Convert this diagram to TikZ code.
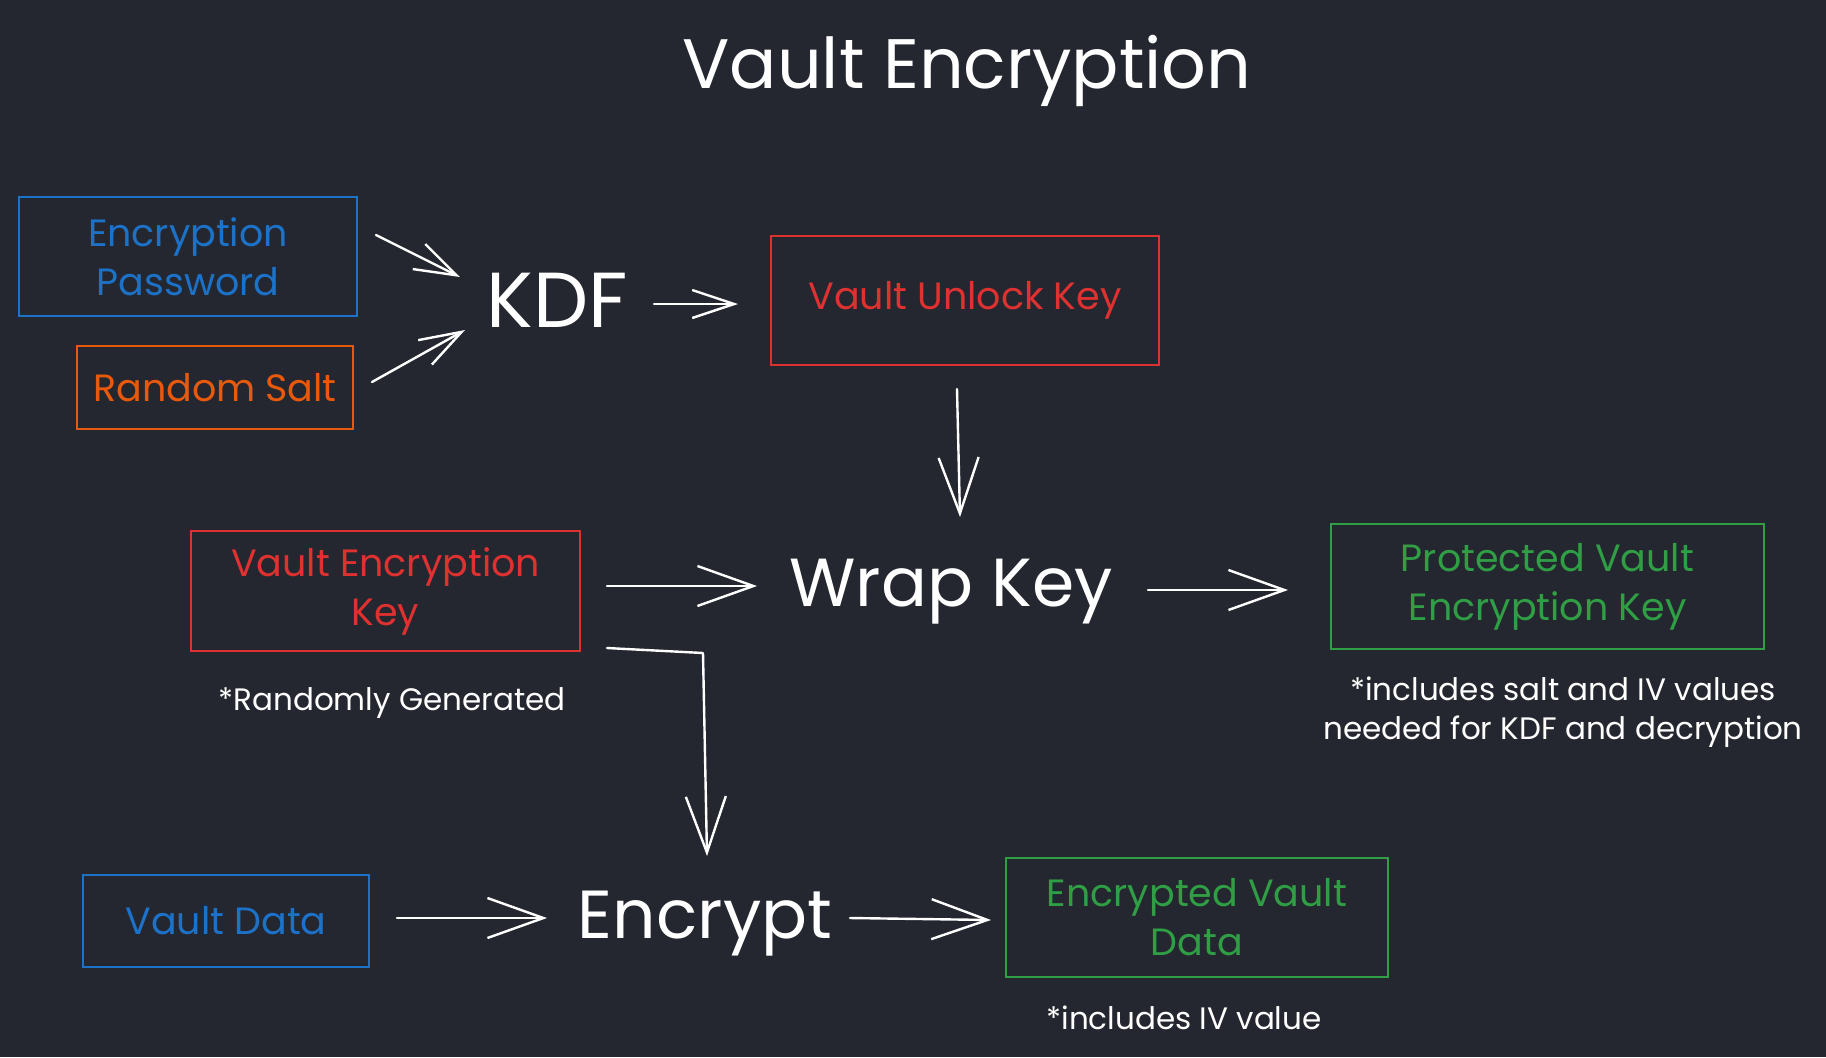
\documentclass[tikz,border=0pt]{standalone}
\usepackage{fontspec}
\setmainfont{Poppins}
\usetikzlibrary{arrows.meta,calc}
\definecolor{bg}{RGB}{36,39,47}
\definecolor{cblue}{RGB}{28,114,200}
\definecolor{corange}{RGB}{232,89,12}
\definecolor{cred}{RGB}{224,49,49}
\definecolor{cgreen}{RGB}{47,158,68}
\tikzset{
  boxnode/.style={draw, line width=1pt, inner sep=0pt, align=center, font=\fontsize{19}{24.5}\selectfont},
  bigword/.style={text=white, inner sep=0pt, text height=24pt, text depth=0pt, font=\fontsize{34}{40}\selectfont},
  notenode/.style={text=white, inner sep=0pt, align=center, font=\fontsize{15.5}{19.5}\selectfont},
  arr/.style={draw=white, line width=1.2pt, line cap=round, line join=round, -{Straight Barb[length=28pt,width=20pt,line width=1.2pt]}},
  arrsmall/.style={draw=white, line width=1.2pt, line cap=round, -{Straight Barb[length=21pt,width=14pt,line width=1.2pt]}}
}
\begin{document}
\begin{tikzpicture}[x=0.5pt,y=-0.5pt]
\fill[bg] (0,0) rectangle (1826,1057);
\useasboundingbox (0,0) rectangle (1826,1057);

\node[text=white, inner sep=0pt, text height=24.5pt, text depth=0pt, font=\fontsize{35}{40}\selectfont] (title) at (967,64) {Vault Encryption};

\node[boxnode, draw=cblue, text=cblue, minimum width=169pt, minimum height=59.5pt] (ep) at (188,256.5) {Encryption\\Password};
\node[boxnode, draw=corange, text=corange, minimum width=138pt, minimum height=41.5pt] (rs) at (215,387.5) {Random Salt};
\node[bigword, text height=27pt, font=\fontsize{39}{44}\selectfont] (kdf) at (557,300) {KDF};
\node[boxnode, draw=cred, text=cred, minimum width=194pt, minimum height=64.5pt] (vuk) at (965,300.5) {Vault Unlock Key};
\node[bigword] (wrap) at (951,582) {Wrap Key};
\node[boxnode, draw=cred, text=cred, minimum width=194.5pt, minimum height=60pt] (vek) at (385.5,591) {Vault Encryption\\Key};
\node[notenode] (rg) at (392,703) {*Randomly Generated};
\node[boxnode, draw=cgreen, text=cgreen, minimum width=216.5pt, minimum height=62.5pt] (pvek) at (1547.5,586.5) {Protected Vault\\Encryption Key};
\node[notenode] (n2) at (1563,712) {*includes salt and IV values\\needed for KDF and decryption};
\node[bigword] (enc) at (705,914) {Encrypt};
\node[boxnode, draw=cblue, text=cblue, minimum width=143pt, minimum height=46pt] (vd) at (226,921) {Vault Data};
\node[boxnode, draw=cgreen, text=cgreen, minimum width=191pt, minimum height=59.5pt] (evd) at (1197,917.5) {Encrypted Vault\\Data};
\node[notenode] (n3) at (1184,1018) {*includes IV value};

\coordinate (bend) at (703,653);

\draw[arrsmall] ([shift={(9pt,10.75pt)}]ep.east) -- ([shift={(-48.5pt,11.5pt)}]kdf.center);
\draw[arrsmall] ([shift={(9pt,2.75pt)}]rs.east) -- ([shift={(-46pt,-15pt)}]kdf.center);
\draw[arrsmall] ([shift={(48.5pt,-2pt)}]kdf.center) -- ([shift={(-16pt,-1.75pt)}]vuk.west);
\draw[arr] ([shift={(-4pt,-11.5pt)}]vuk.south) -- ([shift={(4.5pt,32.5pt)}]wrap.center);
\draw[arr] ([shift={(13pt,2.5pt)}]vek.east) -- ([shift={(-97pt,-2pt)}]wrap.center);
\draw[arr] ([shift={(98.5pt,-4pt)}]wrap.center) -- ([shift={(-21pt,-1.75pt)}]pvek.west);
\draw[arr] ([shift={(13pt,2pt)}]vek.south east) -- (bend) -- ([shift={(1pt,29pt)}]enc.center);
\draw[arr] ([shift={(13.5pt,1.5pt)}]vd.east) -- ([shift={(-79pt,-2pt)}]enc.center);
\draw[arr] ([shift={(72.5pt,-2pt)}]enc.center) -- ([shift={(-7pt,-1.25pt)}]evd.west);
\end{tikzpicture}
\end{document}
